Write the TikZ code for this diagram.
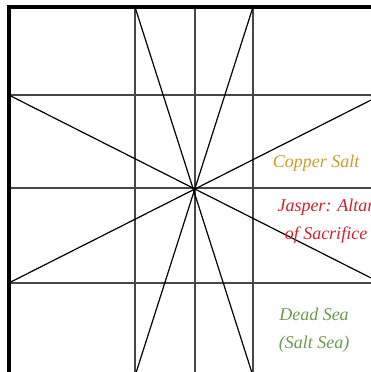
\documentclass[tikz,border=0pt]{standalone}
\usepackage{fontspec}
\setmainfont{Liberation Serif}
\definecolor{coppergold}{HTML}{C79E2C}
\definecolor{jasperred}{HTML}{D3202E}
\definecolor{seagreen}{HTML}{6B9A4E}
\tikzset{
  court plan/.style={x=1pt,y=-1pt},
  outer wall/.style={line width=3.4pt, black},
  grid line/.style={line width=1.8pt, black!72},
  ray line/.style={line width=1.2pt, black},
  place label/.style={
    font=\fontsize{18}{28}\selectfont\itshape,
    align=center,
    inner sep=0pt,
  },
}

\begin{document}
\begin{tikzpicture}[
  court plan,
]

\useasboundingbox (0,0) rectangle (371,372);

% corners of the court
\coordinate (nw) at (8.8,7);
\coordinate (se) at (381,376);

\begin{scope}
  \clip (0,0) rectangle (371,372);
  % grid
  \draw [grid line] (135,7) -- (135,376);
  \draw [grid line] (195,7) -- (195,376);
  \draw [grid line] (253,7) -- (253,376);
  \draw [grid line] (8.8,95) -- (381,95);
  \draw [grid line] (8.8,188) -- (381,188);
  \draw [grid line] (8.8,283) -- (381,283);
  % rays through the centre
  \draw [ray line] (135,7) -- (253,376);
  \draw [ray line] (253,7) -- (135,376);
  \draw [ray line] (8.8,95) -- (381,283);
  \draw [ray line] (8.8,283) -- (381,95);
  % outer wall
  \draw [outer wall] (nw) rectangle (se);
\end{scope}

\node [place label, text=coppergold, anchor=base] (copper) at (316,167) {Copper Salt};
\node [place label, text=jasperred] (jasper) at (326,221) {Jasper: Altar\\of Sacrifice};
\node [place label, text=seagreen] (deadsea) at (314,330) {Dead Sea\\(Salt Sea)};

\end{tikzpicture}
\end{document}
